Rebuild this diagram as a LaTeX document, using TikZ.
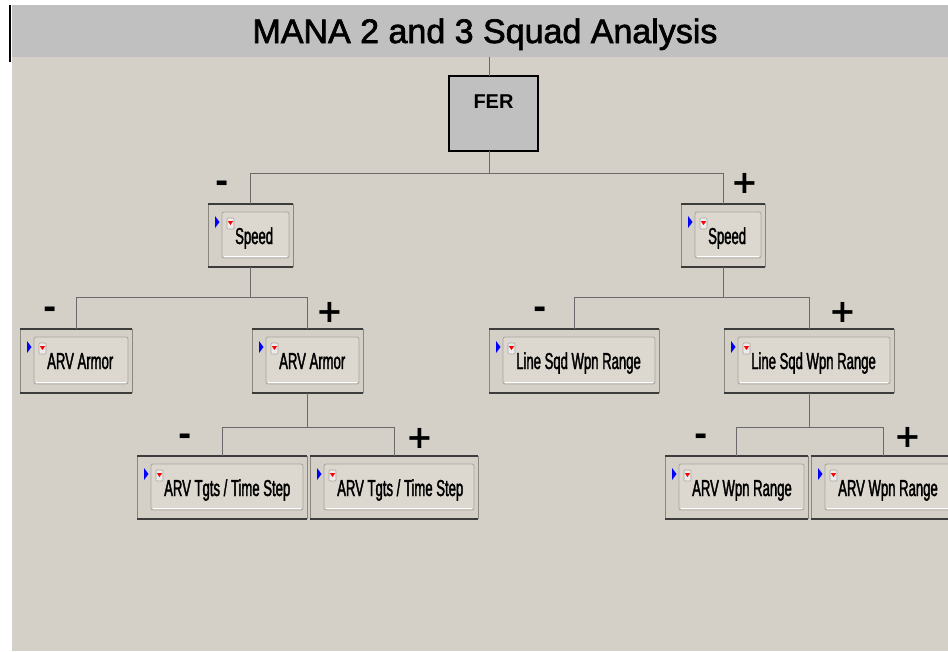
\documentclass[tikz,border=0pt]{standalone}
\usepackage{fontspec}
\usetikzlibrary{calc}
\newfontfamily\titlefont[FakeBold=2]{Liberation Sans}
\newfontfamily\ferfont{Liberation Sans}
\newfontfamily\narrowfont[FakeStretch=0.57, FakeBold=1.6]{Liberation Sans}
\newfontfamily\signfont{DejaVu Sans}
\definecolor{bgc}{HTML}{D4D0C8}
\definecolor{titc}{HTML}{C0C0C0}
\definecolor{conc}{HTML}{6A6A6A}
\definecolor{darkb}{HTML}{3C3C3C}
\definecolor{sideb}{HTML}{8A8780}
\definecolor{innerf}{HTML}{DCD8D0}
\definecolor{innerb}{HTML}{A8A59E}
\tikzset{
  boxnode/.style={inner sep=0pt, outer sep=0pt, draw=none},
  conn/.style={draw=conc, line width=1pt},
  lbl/.style={inner sep=0pt, font=\narrowfont\fontsize{23}{23}\selectfont, anchor=base west},
  sign/.style={inner sep=0pt, font=\signfont\bfseries\fontsize{32}{32}\selectfont, text=black},
}
\newcommand\tbox[6]{%
  \node[boxnode, minimum width={#4-#2}, minimum height={#5-#3}] (#1) at ({(#2+#4)/2},{(#3+#5)/2}) {};
  \fill[bgc] (#1.north west) rectangle (#1.south east);
  \draw[sideb, line width=1pt] (#1.north west) -- (#1.south west);
  \draw[sideb, line width=1pt] (#1.north east) -- (#1.south east);
  \draw[darkb, line width=2pt] (#1.north west) -- (#1.north east);
  \draw[darkb, line width=2.6pt] (#1.south west) -- (#1.south east);
  \draw[innerb, fill=innerf, line width=0.8pt, rounded corners=2pt] ($(#1.north west)+(14,8)$) rectangle ($(#1.south east)+(-4,-9)$);
  \draw[white, line width=0.8pt] ($(#1.south west)+(16,-11)$) -- ($(#1.south east)+(-6,-11)$);
  \fill[blue] ($(#1.north west)+(7,12)$) -- ++(4.5,6) -- ++(-4.5,6) -- cycle;
  \draw[innerb, fill=white!85!gray, line width=0.6pt, rounded corners=1pt] ($(#1.north west)+(19,14)$) rectangle ++(7,11);
  \fill[red] ($(#1.north west)+(19.8,17)$) -- ++(5.4,0) -- ++(-2.7,4) -- cycle;
  \node[lbl] (#1-t) at ($(#1.north west)+(27,40)$) {#6};
}
\begin{document}
\begin{tikzpicture}[x=1pt, y=-1pt]
  \useasboundingbox (0,0) rectangle (948,651);
  \fill[white] (0,0) rectangle (948,651);
  \fill[bgc] (12,57) rectangle (948,651);
  \fill[titc] (12,5) rectangle (948,57);
  \draw[black, line width=1.5pt] (10,5) -- (10,62);
  \node[inner sep=0pt, anchor=base, font=\titlefont\fontsize{34}{34}\selectfont] (title) at (485,43) {MANA 2 and 3 Squad Analysis};
  \coordinate (tb) at (489,57);
  % FER
  \node[boxnode, minimum width=89, minimum height=75, fill=titc, draw=black, line width=1.2pt] (fer) at (493.5,113.5) {};
  \node[inner sep=0pt, anchor=base, font=\ferfont\bfseries\fontsize{20}{20}\selectfont] (fer-t) at (493.5,108) {FER};
  \draw[conn] (tb) -- (tb |- fer.north);
  % boxes
  \tbox{spL}{208}{204}{293}{267}{Speed}
  \tbox{spR}{681}{204}{765}{267}{Speed}
  \tbox{arL}{20}{329}{132}{393}{ARV Armor}
  \tbox{arR}{252}{329}{363}{393}{ARV Armor}
  \tbox{tgL}{137}{456}{307}{519}{ARV Tgts / Time Step}
  \tbox{tgR}{310}{456}{478}{519}{ARV Tgts / Time Step}
  \tbox{lsL}{489}{329}{659}{393}{Line Sqd Wpn Range}
  \tbox{lsR}{724}{329}{894}{393}{Line Sqd Wpn Range}
  \tbox{wrL}{665}{456}{808}{519}{ARV Wpn Range}
  \tbox{wrR}{811}{456}{955}{519}{ARV Wpn Range}
  % connectors
  \coordinate (b1) at (0,173);
  \coordinate (b2) at (0,297);
  \coordinate (b3) at (0,427);
  \draw[conn] (tb |- fer.south) -- (tb |- b1);
  \draw[conn] (spL.north) -- (spL.north |- b1) -- (spR.north |- b1) -- (spR.north);
  \draw[conn] (spL.south) -- (spL.south |- b2);
  \draw[conn] (arL.north) -- (arL.north |- b2) -- (arR.north |- b2) -- (arR.north);
  \draw[conn] (arR.south) -- (arR.south |- b3);
  \draw[conn] (tgL.north) -- (tgL.north |- b3) -- (tgR.north |- b3) -- (tgR.north);
  \draw[conn] (spR.south) -- (spR.south |- b2);
  \draw[conn] (lsL.north) -- (lsL.north |- b2) -- (lsR.north |- b2) -- (lsR.north);
  \draw[conn] (lsR.south) -- (lsR.south |- b3);
  \draw[conn] (wrL.north) -- (wrL.north |- b3) -- (wrR.north |- b3) -- (wrR.north);
  % signs
  \node[sign] (s1) at (222,187) {-};
  \node[sign] (s2) at (745,183) {+};
  \node[sign] (s3) at (50,313) {-};
  \node[sign] (s4) at (330,312) {+};
  \node[sign] (s5) at (185,440) {-};
  \node[sign] (s6) at (420,438) {+};
  \node[sign] (s7) at (540,313) {-};
  \node[sign] (s8) at (843,312) {+};
  \node[sign] (s9) at (701,440) {-};
  \node[sign] (s10) at (908,437) {+};
\end{tikzpicture}
\end{document}
